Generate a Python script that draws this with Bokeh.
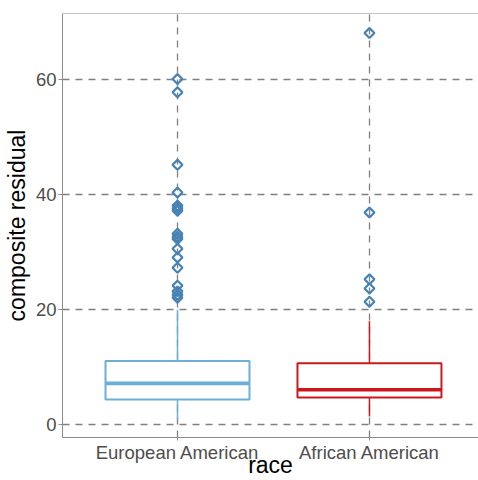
from bokeh.plotting import figure
from bokeh.models import Range1d, FixedTicker, Span
from bokeh.embed import file_html
from bokeh.resources import INLINE

# ---- data ----
categories = ["European American", "African American"]
xpos = [1, 2]
q1 = [4.4, 4.75]
median = [7.2, 6.1]
q3 = [11.1, 10.7]
lower = [0.9, 1.45]
upper = [20.0, 18.0]
box_colors = ["#6baed6", "#cb181d"]

eu_outliers = [60.1, 57.8, 45.2, 40.4, 38.1, 37.6, 37.2, 33.2, 32.7, 32.3,
               30.6, 29.1, 27.3, 24.2, 23.2, 22.6, 22.1]
af_outliers = [68.1, 36.9, 25.3, 23.7, 21.4]

y_ticks = [0, 20, 40, 60]

FONT = "Liberation Sans"
GRAY = "#8c8c8c"

p = figure(width=478, height=480, output_backend="svg", toolbar_location=None,
           x_range=Range1d(0.401, 2.568), y_range=Range1d(-2.2, 71.5),
           min_border_left=62, min_border_right=0, min_border_top=13,
           min_border_bottom=43)
p.outline_line_color = None
p.background_fill_color = "white"
p.border_fill_color = "white"

# axes
p.xaxis.ticker = FixedTicker(ticks=xpos)
p.xaxis.major_label_overrides = {x: c for x, c in zip(xpos, categories)}
p.yaxis.ticker = FixedTicker(ticks=y_ticks)
for ax in (p.xaxis, p.yaxis):
    ax.axis_line_color = GRAY
    ax.axis_line_width = 1
    ax.major_tick_line_color = GRAY
    ax.major_tick_in = 0
    ax.minor_tick_line_color = None
    ax.major_label_text_font = FONT
    ax.major_label_text_font_size = "18.5px"
    ax.major_label_text_color = "#4d4d4d"
    ax.axis_label_text_font = FONT
    ax.axis_label_text_font_size = "23px"
    ax.axis_label_text_color = "black"
    ax.axis_label_text_font_style = "normal"
p.xaxis.major_tick_out = 3
p.xaxis.major_label_standoff = 1
p.yaxis.major_tick_out = 4
p.yaxis.major_label_standoff = 2
p.xaxis.axis_label = "race"
p.yaxis.axis_label = "composite residual"
p.xaxis.axis_label_standoff = -14
p.yaxis.axis_label_standoff = 3

# grid
p.xgrid.ticker = FixedTicker(ticks=xpos)
p.ygrid.ticker = FixedTicker(ticks=y_ticks)
for g in (p.xgrid, p.ygrid):
    g.grid_line_color = "#7f7f7f"
    g.grid_line_dash = "7 6"
    g.grid_line_width = 1.3

# top border
p.add_layout(Span(location=71.5, dimension="width", line_color=GRAY, line_width=1))

# whiskers
p.segment(x0=xpos, y0=q3, x1=xpos, y1=upper, line_color=box_colors, line_width=1.5)
p.segment(x0=xpos, y0=q1, x1=xpos, y1=lower, line_color=box_colors, line_width=1.5)
# boxes
p.vbar(x=xpos, width=0.75, top=q3, bottom=q1, fill_color="white",
       line_color=box_colors, line_width=2)
# medians
p.segment(x0=[x - 0.375 for x in xpos], y0=median, x1=[x + 0.375 for x in xpos],
          y1=median, line_color=box_colors, line_width=3.6)

# outliers
p.scatter(x=[xpos[0]] * len(eu_outliers), y=eu_outliers, marker="square", size=7,
          angle=0.785398, fill_alpha=0, line_color="#4682b4", line_width=2.2)
p.scatter(x=[xpos[1]] * len(af_outliers), y=af_outliers, marker="square", size=7,
          angle=0.785398, fill_alpha=0, line_color="#4682b4", line_width=2.2)

open("out.html", "w").write(file_html(p, INLINE))
